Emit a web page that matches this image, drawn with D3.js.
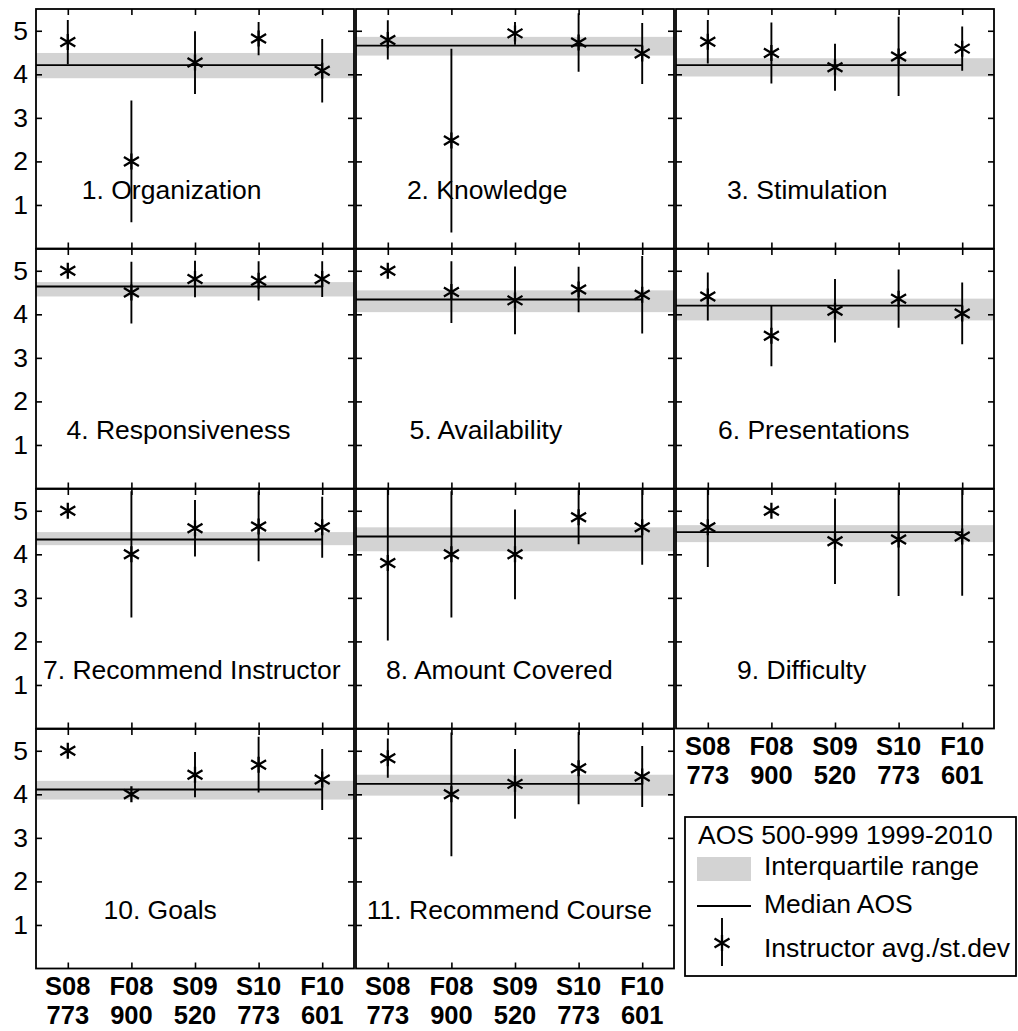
<!DOCTYPE html>
<html>
<head>
<meta charset="utf-8">
<script src="https://d3js.org/d3.v7.min.js"></script>
<style>
  body { margin: 0; background: #fff; }
  text { font-family: "Liberation Sans", Arial, Helvetica, sans-serif; fill: #000; }
</style>
</head>
<body>
<div id="chart"></div>
<script>
// ---- data ----
var titles = ["1. Organization", "2. Knowledge", "3. Stimulation",
              "4. Responsiveness", "5. Availability", "6. Presentations",
              "7. Recommend Instructor", "8. Amount Covered", "9. Difficulty",
              "10. Goals", "11. Recommend Course"];
var semesters = ["S08", "F08", "S09", "S10", "F10"];
var courses   = ["773", "900", "520", "773", "601"];

var medianAOS = [4.21, 4.66, 4.21, 4.64, 4.34, 4.20, 4.34, 4.41, 4.51, 4.11, 4.24];
var q1AOS     = [3.91, 4.43, 3.95, 4.41, 4.05, 3.86, 4.21, 4.07, 4.28, 3.88, 3.97];
var q3AOS     = [4.49, 4.86, 4.37, 4.74, 4.55, 4.36, 4.51, 4.62, 4.67, 4.31, 4.45];

var instAvg = [
  [4.74, 2.00, 4.27, 4.82, 4.08],
  [4.79, 2.48, 4.94, 4.73, 4.48],
  [4.75, 4.49, 4.16, 4.41, 4.59],
  [5.00, 4.50, 4.81, 4.77, 4.81],
  [5.00, 4.51, 4.32, 4.57, 4.45],
  [4.41, 3.51, 4.08, 4.36, 4.02],
  [5.00, 4.00, 4.60, 4.64, 4.62],
  [3.80, 4.00, 4.00, 4.85, 4.62],
  [4.62, 5.00, 4.30, 4.34, 4.41],
  [5.00, 4.00, 4.45, 4.68, 4.34],
  [4.83, 4.00, 4.24, 4.60, 4.41]
];
var instSd = [
  [0.51, 1.40, 0.72, 0.38, 0.73],
  [0.45, 2.11, 0.26, 0.67, 0.70],
  [0.50, 0.70, 0.54, 0.91, 0.51],
  [0.00, 0.71, 0.42, 0.45, 0.41],
  [0.00, 0.71, 0.78, 0.52, 0.89],
  [0.55, 0.70, 0.73, 0.67, 0.71],
  [0.00, 1.45, 0.65, 0.80, 0.70],
  [1.78, 1.45, 1.03, 0.62, 0.86],
  [0.91, 0.00, 0.98, 1.30, 1.36],
  [0.00, 0.00, 0.52, 0.64, 0.70],
  [0.45, 1.42, 0.80, 0.83, 0.70]
];
var yTicks = [1, 2, 3, 4, 5];
var legendTitle = "AOS 500-999 1999-2010";
var legendLabels = ["Interquartile range", "Median AOS", "Instructor avg./st.dev"];

// ---- layout ----
var titleX = [1.22, 1.30, 1.30, 0.98, 1.34, 1.16, 0.61, 0.97, 1.46, 1.56, 0.67]; // label start, x data units
var titleY = 1.13;
var panelW = 318, panelH = 239.5, colStep = 320, rowStep = 240, left0 = 36, top0 = 9;
var fontSize = 26.5;

var svg = d3.select("#chart")
  .append("svg")
    .attr("width", 1018)
    .attr("height", 1031);

var x = d3.scaleLinear().domain([0.5, 5.5]).range([0, panelW]);
var y = d3.scaleLinear().domain([0, 5.5]).range([panelH, 0]);

var starPath = "M0,-8V8M-7.5,-4.5L7.5,4.5M-7.5,4.5L7.5,-4.5";

function styleAxis(a) {
  a.select(".domain").remove();
  a.selectAll(".tick line").attr("stroke", "#000").attr("stroke-width", 1.6);
  a.attr("font-size", fontSize).attr("font-family", null);
}

titles.forEach(function(title, i) {
  var col = i % 3, row = Math.floor(i / 3);
  var g = svg.append("g")
    .attr("transform", "translate(" + (left0 + col * colStep) + "," + (top0 + row * rowStep) + ")");

  g.append("clipPath").attr("id", "clip" + i)
    .append("rect").attr("width", panelW).attr("height", panelH);
  var plot = g.append("g").attr("clip-path", "url(#clip" + i + ")");

  // interquartile band
  plot.append("rect")
    .attr("x", 0)
    .attr("width", panelW)
    .attr("y", y(q3AOS[i]))
    .attr("height", y(q1AOS[i]) - y(q3AOS[i]))
    .attr("fill", "#d3d3d3");

  // median
  plot.append("line")
    .attr("x1", x(0.5)).attr("x2", x(5))
    .attr("y1", y(medianAOS[i])).attr("y2", y(medianAOS[i]))
    .attr("stroke", "#000").attr("stroke-width", 1.9);

  var pts = instAvg[i].map(function(m, j) { return {k: j + 1, m: m, s: instSd[i][j]}; });

  plot.selectAll(".bar")
    .data(pts.filter(function(d) { return d.s > 0; }))
    .enter().append("line")
      .attr("x1", function(d) { return x(d.k); })
      .attr("x2", function(d) { return x(d.k); })
      .attr("y1", function(d) { return y(d.m + d.s); })
      .attr("y2", function(d) { return y(d.m - d.s); })
      .attr("stroke", "#000").attr("stroke-width", 1.9);

  plot.selectAll(".star")
    .data(pts)
    .enter().append("path")
      .attr("transform", function(d) { return "translate(" + x(d.k) + "," + y(d.m) + ")"; })
      .attr("d", starPath)
      .attr("fill", "none")
      .attr("stroke", "#000").attr("stroke-width", 2.3);

  g.append("text")
    .attr("x", x(titleX[i]))
    .attr("y", y(titleY))
    .attr("font-size", fontSize)
    .text(title);

  // inward ticks on all four sides
  g.append("g").call(d3.axisLeft(y).tickValues(yTicks).tickSize(-6).tickPadding(8)
      .tickFormat(col === 0 ? d3.format("d") : function() { return ""; }))
    .call(styleAxis);
  g.append("g").attr("transform", "translate(" + panelW + ",0)")
    .call(d3.axisRight(y).tickValues(yTicks).tickSize(-6).tickFormat(function() { return ""; }))
    .call(styleAxis);
  g.append("g")
    .call(d3.axisTop(x).tickValues([1, 2, 3, 4, 5]).tickSize(-6).tickFormat(function() { return ""; }))
    .call(styleAxis);
  g.append("g").attr("transform", "translate(0," + panelH + ")")
    .call(d3.axisBottom(x).tickValues([1, 2, 3, 4, 5]).tickSize(-6).tickFormat(function() { return ""; }))
    .call(styleAxis);

  g.append("rect")
    .attr("width", panelW).attr("height", panelH)
    .attr("fill", "none").attr("stroke", "#000").attr("stroke-width", 1.8);

  // tick labels under panels with nothing below them
  if (i + 3 >= titles.length) {
    g.selectAll(".sem").data(semesters).enter().append("text")
      .attr("x", function(d, j) { return x(j + 1); })
      .attr("y", panelH + 26)
      .attr("text-anchor", "middle")
      .attr("font-size", 25.5).attr("font-weight", "bold")
      .text(function(d) { return d; });
    g.selectAll(".crs").data(courses).enter().append("text")
      .attr("x", function(d, j) { return x(j + 1); })
      .attr("y", panelH + 55.5)
      .attr("text-anchor", "middle")
      .attr("font-size", 25.5).attr("font-weight", "bold")
      .text(function(d) { return d; });
  }
});

// ---- legend ----
var lg = svg.append("g").attr("transform", "translate(685,817)");
lg.append("rect").attr("width", 331).attr("height", 159)
  .attr("fill", "#fff").attr("stroke", "#000").attr("stroke-width", 1.8);
lg.append("text").attr("x", 13).attr("y", 27).attr("font-size", fontSize).text(legendTitle);
lg.append("rect").attr("x", 12).attr("y", 40).attr("width", 54).attr("height", 24).attr("fill", "#d3d3d3");
lg.append("line").attr("x1", 12).attr("x2", 66).attr("y1", 89).attr("y2", 89)
  .attr("stroke", "#000").attr("stroke-width", 1.9);
lg.append("line").attr("x1", 37).attr("x2", 37).attr("y1", 101).attr("y2", 149)
  .attr("stroke", "#000").attr("stroke-width", 1.9);
lg.append("path").attr("transform", "translate(37,126)").attr("d", starPath)
  .attr("fill", "none").attr("stroke", "#000").attr("stroke-width", 2.3);
lg.selectAll(".lab").data(legendLabels).enter().append("text")
  .attr("x", 79)
  .attr("y", function(d, j) { return [58, 96, 140][j]; })
  .attr("font-size", fontSize)
  .text(function(d) { return d; });
</script>
</body>
</html>
